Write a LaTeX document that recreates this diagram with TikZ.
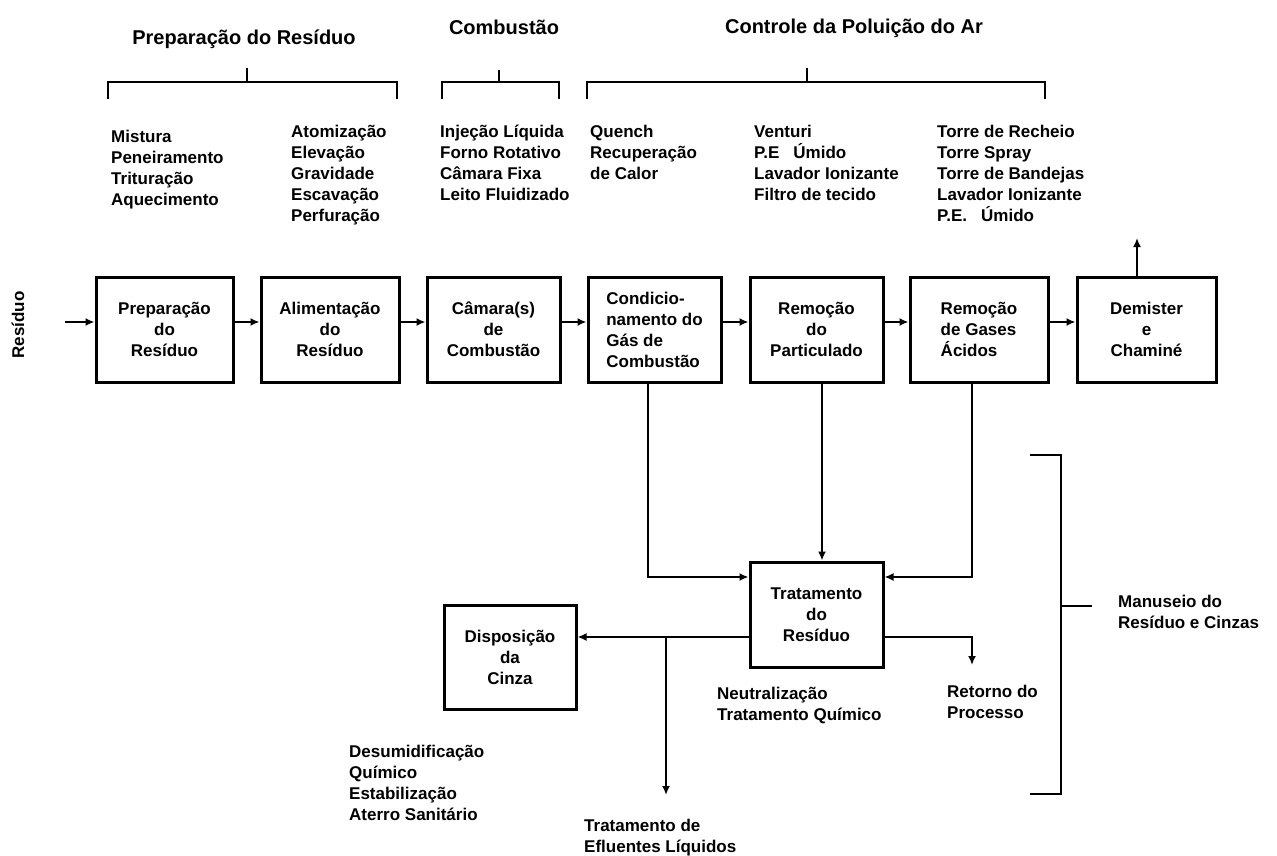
\documentclass[tikz,border=0pt]{standalone}
\usepackage{fontspec}
\setmainfont{Liberation Sans}
\usetikzlibrary{arrows.meta}

\tikzset{
  txt/.style={font=\bfseries\fontsize{17}{21}\selectfont, inner sep=0pt},
  head/.style={font=\bfseries\fontsize{20}{24}\selectfont, inner sep=0pt},
  lst/.style={txt, align=left, anchor=north west},
  blk/.style={txt, draw, line width=3pt, minimum width=#1, minimum height=105pt, align=center},
  brk/.style={line width=2.5pt},
  arr/.style={line width=2.5pt, -{Latex[length=9pt,width=8pt]}},
}

\begin{document}
\begin{tikzpicture}[x=1pt, y=-1pt]
    \useasboundingbox (0,0) rectangle (1277,856);

    % titulos e chaves
    \node[head] (tprep) at (244,39) {Preparação do Resíduo};
    \node[head] (tcomb) at (504,27) {Combustão};
    \node[head] (tctrl) at (854,28) {Controle da Poluição do Ar};
    \draw[brk] (108,99) -- (108,82) -- (397,82) -- (397,99) (247,68) -- (247,82);
    \draw[brk] (442,99) -- (442,82) -- (559,82) -- (559,99) (499,70) -- (499,82);
    \draw[brk] (587,99) -- (587,82) -- (1045,82) -- (1045,99) (807,68) -- (807,82);

    % listas
    \node[lst] (mix) at (111,130) {Mistura\\Peneiramento\\Trituração\\Aquecimento};
    \node[lst] (feed) at (291,125) {Atomização\\Elevação\\Gravidade\\Escavação\\Perfuração};
    \node[lst] (burn) at (440,125) {Injeção Líquida\\Forno Rotativo\\Câmara Fixa\\Leito Fluidizado};
    \node[lst] (quen) at (590,125) {Quench\\Recuperação\\de Calor};
    \node[lst] (vent) at (754,125) {Venturi\\P.E\hspace{14pt}Úmido\\Lavador Ionizante\\Filtro de tecido};
    \node[lst] (torre) at (937,125) {Torre de Recheio\\Torre Spray\\Torre de Bandejas\\Lavador Ionizante\\P.E.\hspace{14pt}Úmido};

    % linha principal
    \node[txt, rotate=90] (res) at (18,325) {Resíduo};
    \node[blk=137] (prep) at (164.5,329.5) {Preparação\\do\\Resíduo};
    \node[blk=138] (alim) at (330,329.5) {Alimentação\\do\\Resíduo};
    \node[blk=133] (cam) at (493.5,329.5) {Câmara(s)\\de\\Combustão};
    \node[blk=133, align=left] (cond) at (654.5,329.5) {Condicio-\\namento do\\Gás de\\Combustão};
    \node[blk=133] (part) at (816.5,329.5) {Remoção\\do\\Particulado};
    \node[blk=138, align=left] (acid) at (979,329.5) {Remoção\\de Gases\\Ácidos};
    \node[blk=139] (dem) at (1146.5,329.5) {Demister\\e\\Chaminé};

    \coordinate (inp) at (65,322);
    \coordinate (stack) at (1137,238);
    \draw[arr] (inp) -- (prep.west |- inp);
    \draw[arr] (prep.east |- inp) -- (alim.west |- inp);
    \draw[arr] (alim.east |- inp) -- (cam.west |- inp);
    \draw[arr] (cam.east |- inp) -- (cond.west |- inp);
    \draw[arr] (cond.east |- inp) -- (part.west |- inp);
    \draw[arr] (part.east |- inp) -- (acid.west |- inp);
    \draw[arr] (acid.east |- inp) -- (dem.west |- inp);
    \draw[arr] (dem.north -| stack) -- (stack);

    % residuos
    \node[blk=133] (trat) at (816.5,614.5) {Tratamento\\do\\Resíduo};
    \node[blk=132, minimum height=104pt] (disp) at (510,657) {Disposição\\da\\Cinza};

    \coordinate (c4) at (648,577);
    \coordinate (c6) at (972,577);
    \draw[arr] (cond.south -| c4) -- (c4) -- (trat.west |- c4);
    \draw[arr] ([xshift=5.5pt]part.south) -- ([xshift=5.5pt]trat.north);
    \draw[arr] (acid.south -| c6) -- (c6) -- (trat.east |- c6);

    \coordinate (yl) at (0,637);
    \coordinate (efl) at (666,795);
    \coordinate (ret) at (972,665);
    \draw[arr] (trat.west |- yl) -- (disp.east |- yl);
    \draw[arr] (efl |- yl) -- (efl);
    \draw[arr] (trat.east |- yl) -| (ret);

    \node[lst] (neut) at (717,687) {Neutralização\\Tratamento Químico};
    \node[lst] (retl) at (947,685) {Retorno do\\Processo};
    \node[lst] (eflt) at (584,819) {Tratamento de\\Efluentes Líquidos};
    \node[lst] (desu) at (349,745) {Desumidificação\\Químico\\Estabilização\\Aterro Sanitário};

    % manuseio
    \draw[brk] (1030,455) -- (1061,455) -- (1061,794) -- (1030,794) (1061,606) -- (1092,606);
    \node[lst] (manl) at (1118,595) {Manuseio do\\Resíduo e Cinzas};
\end{tikzpicture}
\end{document}
